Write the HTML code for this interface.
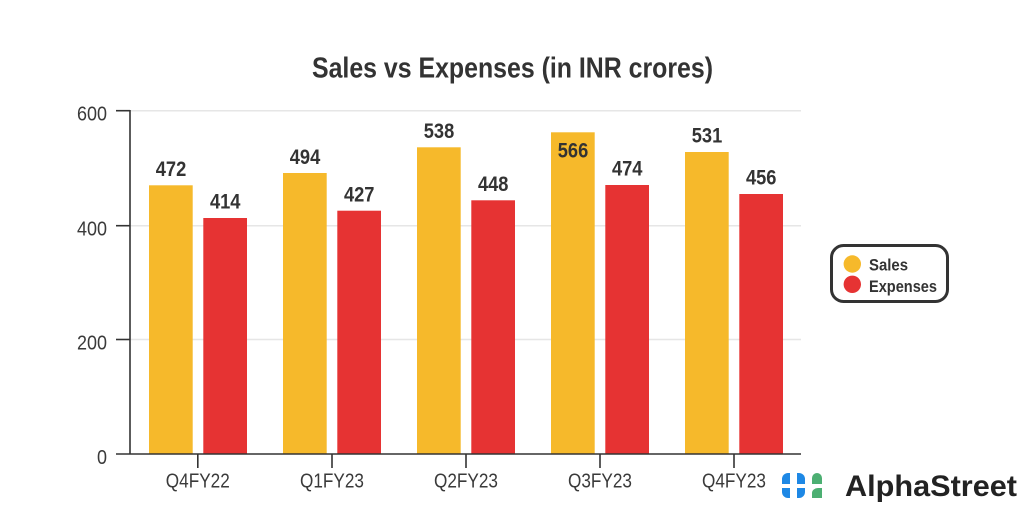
<!DOCTYPE html>
<html><head><meta charset="utf-8"><style>
html,body{margin:0;padding:0;background:#fff;}
svg{display:block;}
text{font-family:"Liberation Sans Narrow","Liberation Sans",sans-serif;}
</style></head><body>
<svg width="1024" height="527" viewBox="0 0 1024 527" xmlns="http://www.w3.org/2000/svg">
<rect width="1024" height="527" fill="#fff"/>
<text x="512.5" y="77.3" text-anchor="middle" font-size="29" font-weight="bold" fill="#333" textLength="401" lengthAdjust="spacingAndGlyphs">Sales vs Expenses (in INR crores)</text>
<!-- gridlines -->
<g stroke="#e6e6e6" stroke-width="1.5">
<line x1="130" y1="110.7" x2="801" y2="110.7"/>
<line x1="130" y1="225.7" x2="801" y2="225.7"/>
<line x1="130" y1="339.5" x2="801" y2="339.5"/>
</g>
<!-- bars -->
<g>
<rect x="149" y="185.3" width="43.7" height="268.7" fill="#F6B92B"/>
<rect x="203.3" y="218" width="43.7" height="236" fill="#E63333"/>
<rect x="283" y="173" width="43.7" height="281" fill="#F6B92B"/>
<rect x="337.3" y="210.7" width="43.7" height="243.3" fill="#E63333"/>
<rect x="417" y="147.3" width="43.7" height="306.7" fill="#F6B92B"/>
<rect x="471.3" y="200.3" width="43.7" height="253.7" fill="#E63333"/>
<rect x="551" y="132.3" width="43.7" height="321.7" fill="#F6B92B"/>
<rect x="605.3" y="185" width="43.7" height="269" fill="#E63333"/>
<rect x="685" y="152" width="43.7" height="302" fill="#F6B92B"/>
<rect x="739.3" y="194" width="43.7" height="260" fill="#E63333"/>
</g>
<!-- value labels -->
<g font-size="21" font-weight="bold" fill="#333" text-anchor="middle">
<text x="171" y="176" textLength="30.5" lengthAdjust="spacingAndGlyphs">472</text>
<text x="225.2" y="208.5" textLength="30.5" lengthAdjust="spacingAndGlyphs">414</text>
<text x="305" y="164" textLength="30.5" lengthAdjust="spacingAndGlyphs">494</text>
<text x="359.2" y="201.4" textLength="30.5" lengthAdjust="spacingAndGlyphs">427</text>
<text x="439" y="138.2" textLength="30.5" lengthAdjust="spacingAndGlyphs">538</text>
<text x="493.2" y="191" textLength="30.5" lengthAdjust="spacingAndGlyphs">448</text>
<text x="573" y="157.7" textLength="30.5" lengthAdjust="spacingAndGlyphs">566</text>
<text x="627.2" y="175.7" textLength="30.5" lengthAdjust="spacingAndGlyphs">474</text>
<text x="707" y="142.7" textLength="30.5" lengthAdjust="spacingAndGlyphs">531</text>
<text x="761.2" y="184.7" textLength="30.5" lengthAdjust="spacingAndGlyphs">456</text>
</g>
<!-- axes -->
<g stroke="#333" stroke-width="1.6">
<line x1="130" y1="110" x2="130" y2="454.5"/>
<line x1="116" y1="454" x2="801" y2="454"/>
<line x1="116" y1="110.7" x2="130" y2="110.7"/>
<line x1="116" y1="225.7" x2="130" y2="225.7"/>
<line x1="116" y1="339.5" x2="130" y2="339.5"/>
<line x1="197.8" y1="454" x2="197.8" y2="468"/>
<line x1="332" y1="454" x2="332" y2="468"/>
<line x1="466" y1="454" x2="466" y2="468"/>
<line x1="600" y1="454" x2="600" y2="468"/>
<line x1="734" y1="454" x2="734" y2="468"/>
</g>
<!-- y tick labels -->
<g font-size="20.5" fill="#3a3a3a" text-anchor="end">
<text x="107" y="120.7" textLength="30" lengthAdjust="spacingAndGlyphs">600</text>
<text x="107" y="235.5" textLength="30" lengthAdjust="spacingAndGlyphs">400</text>
<text x="107" y="349.3" textLength="30" lengthAdjust="spacingAndGlyphs">200</text>
<text x="107" y="463.8" textLength="10" lengthAdjust="spacingAndGlyphs">0</text>
</g>
<!-- x labels -->
<g font-size="20.5" fill="#3a3a3a" text-anchor="middle">
<text x="197.8" y="487.3" textLength="64" lengthAdjust="spacingAndGlyphs">Q4FY22</text>
<text x="332" y="487.3" textLength="64" lengthAdjust="spacingAndGlyphs">Q1FY23</text>
<text x="466" y="487.3" textLength="64" lengthAdjust="spacingAndGlyphs">Q2FY23</text>
<text x="600" y="487.3" textLength="64" lengthAdjust="spacingAndGlyphs">Q3FY23</text>
<text x="734" y="487.3" textLength="64" lengthAdjust="spacingAndGlyphs">Q4FY23</text>
</g>
<!-- legend -->
<rect x="831.5" y="245.5" width="116" height="56" rx="12" ry="12" fill="#fff" stroke="#333" stroke-width="3"/>
<circle cx="852.3" cy="264" r="8.7" fill="#F6B92B"/>
<circle cx="852.3" cy="284.3" r="8.7" fill="#E63333"/>
<g font-size="17" font-weight="bold" fill="#333">
<text x="869" y="270.7" textLength="39" lengthAdjust="spacingAndGlyphs">Sales</text>
<text x="869" y="292" textLength="68" lengthAdjust="spacingAndGlyphs">Expenses</text>
</g>
<!-- logo -->
<g>
<path d="M782 484 V479 A6 6 0 0 1 788 473 H790 V484 Z" fill="#1E88E5"/>
<path d="M797 484 V473 H799 A6 6 0 0 1 805 479 V484 Z" fill="#1E88E5"/>
<path d="M782 488 H790 V498 H788 A6 6 0 0 1 782 492 Z" fill="#1E88E5"/>
<path d="M797 488 H805 V492 A6 6 0 0 1 799 498 H797 Z" fill="#1E88E5"/>
<path d="M812 484 V478 A5 5 0 0 1 822 478 V484 Z" fill="#4CAF72"/>
<path d="M812 498 V493 A6 5 0 0 1 818 488 H822 V498 Z" fill="#4CAF72"/>
</g>
<text x="845" y="496" font-size="30" font-weight="bold" fill="#222" textLength="172" lengthAdjust="spacingAndGlyphs" style="font-family:'Liberation Sans',sans-serif">AlphaStreet</text>
</svg>
</body></html>
